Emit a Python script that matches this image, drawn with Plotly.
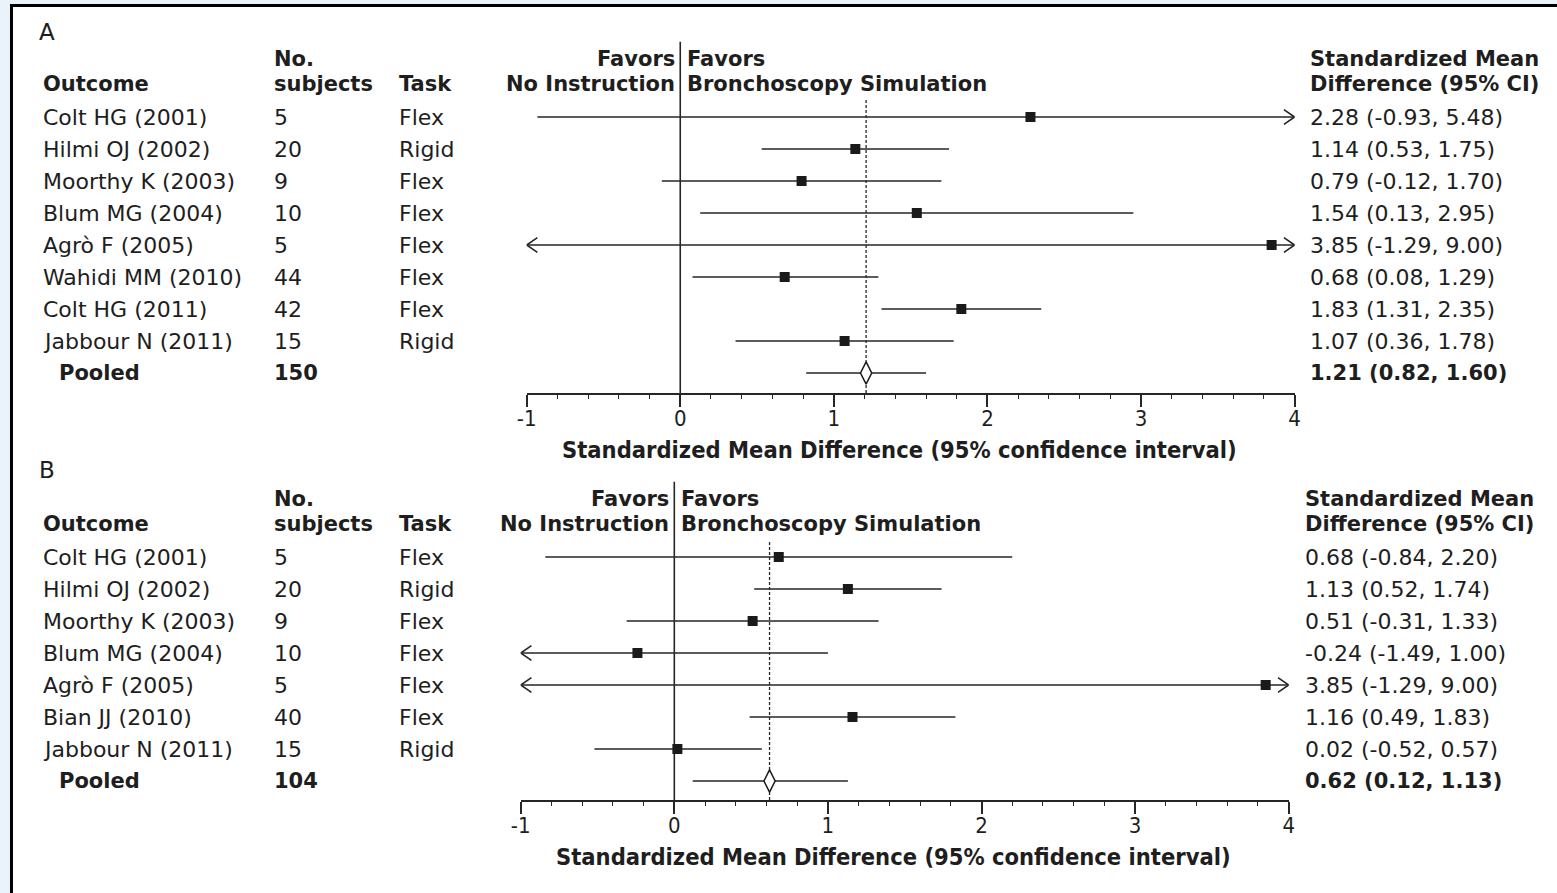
import plotly.graph_objects as go

# ---------------- data ----------------
A_studies = ["Colt HG (2001)", "Hilmi OJ (2002)", "Moorthy K (2003)", "Blum MG (2004)",
             "Agrò F (2005)", "Wahidi MM (2010)", "Colt HG (2011)", "Jabbour N (2011)"]
A_n = [5, 20, 9, 10, 5, 44, 42, 15]
A_task = ["Flex", "Rigid", "Flex", "Flex", "Flex", "Flex", "Flex", "Rigid"]
A_est = [2.28, 1.14, 0.79, 1.54, 3.85, 0.68, 1.83, 1.07]
A_lo = [-0.93, 0.53, -0.12, 0.13, -1.29, 0.08, 1.31, 0.36]
A_hi = [5.48, 1.75, 1.70, 2.95, 9.00, 1.29, 2.35, 1.78]
A_pooled = dict(n=150, est=1.21, lo=0.82, hi=1.60)

B_studies = ["Colt HG (2001)", "Hilmi OJ (2002)", "Moorthy K (2003)", "Blum MG (2004)",
             "Agrò F (2005)", "Bian JJ (2010)", "Jabbour N (2011)"]
B_n = [5, 20, 9, 10, 5, 40, 15]
B_task = ["Flex", "Rigid", "Flex", "Flex", "Flex", "Flex", "Rigid"]
B_est = [0.68, 1.13, 0.51, -0.24, 3.85, 1.16, 0.02]
B_lo = [-0.84, 0.52, -0.31, -1.49, -1.29, 0.49, -0.52]
B_hi = [2.20, 1.74, 1.33, 1.00, 9.00, 1.83, 0.57]
B_pooled = dict(n=104, est=0.62, lo=0.12, hi=1.13)

x_ticks = [-1, 0, 1, 2, 3, 4]
x_range = [-1, 4]
x_title = "Standardized Mean Difference (95% confidence interval)"

# ---------------- layout helpers ----------------
W, H = 1557, 893
FONT = "DejaVu Sans, Verdana, sans-serif"
CFONT = "DejaVu Sans Condensed, DejaVu Sans, sans-serif"
TXT = "#1e1e1e"
LINE = "#262626"
BG = "#eaf3fa"
FS = 22
FSB = 21

def px(x):
    return x / W

def py(y):
    return 1 - y / H

fig = go.Figure()
annotations = []
shapes = []

# background frame
shapes.append(dict(type="rect", xref="paper", yref="paper", x0=px(0), x1=1.01, y0=-0.01, y1=py(5),
                   fillcolor="white", line=dict(width=0), layer="below"))
shapes.append(dict(type="line", xref="paper", yref="paper", x0=px(1.5), x1=px(1.5), y0=-0.01, y1=py(4),
                   line=dict(color="black", width=3)))
shapes.append(dict(type="line", xref="paper", yref="paper", x0=0, x1=1.01, y0=py(5.5), y1=py(5.5),
                   line=dict(color="black", width=3)))


def panel(letter, studies, ns, tasks, est, lo, hi, pooled, xaxis, yaxis, cols, letter_y, title_y):
    xr = xaxis.replace("axis", "")
    yr = yaxis.replace("axis", "")
    nrow = len(studies)
    rows = [-i for i in range(nrow)]
    prow = -nrow
    # CI lines
    lx, ly = [], []
    for r, l, h in zip(rows, lo, hi):
        lx += [max(l, x_range[0]), min(h, x_range[1]), None]
        ly += [r, r, None]
    lx += [pooled["lo"], pooled["hi"], None]
    ly += [prow, prow, None]
    # arrow chevrons where CI extends beyond axis
    dx, dy = 0.07, 0.23
    for r, l, h in zip(rows, lo, hi):
        if h > x_range[1]:
            t = x_range[1]
            lx += [t - dx, t, t - dx, None]
            ly += [r + dy, r, r - dy, None]
        if l < x_range[0]:
            t = x_range[0]
            lx += [t + dx, t, t + dx, None]
            ly += [r + dy, r, r - dy, None]
    fig.add_trace(go.Scatter(x=lx, y=ly, mode="lines", line=dict(color=LINE, width=1.6),
                             xaxis=xr, yaxis=yr, hoverinfo="skip", showlegend=False))
    # point estimates
    fig.add_trace(go.Scatter(x=est, y=rows, mode="markers",
                             marker=dict(symbol="square", size=10, color="#1a1a1a"),
                             xaxis=xr, yaxis=yr, showlegend=False))
    # pooled diamond
    fig.add_trace(go.Scatter(x=[pooled["est"]], y=[prow], mode="markers",
                             marker=dict(symbol="diamond-tall", size=16, color="white",
                                         line=dict(color="#1a1a1a", width=1.5)),
                             xaxis=xr, yaxis=yr, showlegend=False))
    # zero line & pooled dashed line
    shapes.append(dict(type="line", xref=xr, yref=yr, x0=0, x1=0, y0=cols["ybot"], y1=2.35,
                       line=dict(color=LINE, width=1.6), layer="below"))
    shapes.append(dict(type="line", xref=xr, yref=yr, x0=pooled["est"], x1=pooled["est"],
                       y0=cols["ybot"], y1=0.53, line=dict(color=LINE, width=1.3, dash="3px,2px"),
                       layer="below"))

    def ann(text, x, y, xanchor="left", xref="paper", xshift=0, size=FS):
        annotations.append(dict(text=text, x=x, y=y, xref=xref, yref=yr, xanchor=xanchor,
                                yanchor="middle", showarrow=False, xshift=xshift,
                                font=dict(family=FONT, size=size, color=TXT)))

    h1, h2 = 1.81, 1.03
    ann("<b>Outcome</b>", px(cols["out"]), h2, size=FSB)
    ann("<b>No.</b>", px(cols["n"]), h1, size=FSB)
    ann("<b>subjects</b>", px(cols["n"]), h2, size=FSB)
    ann("<b>Task</b>", px(cols["task"]), h2, size=FSB)
    ann("<b>Favors</b>", 0, h1, xanchor="right", xref=xr, xshift=-3, size=FSB)
    ann("<b>No Instruction</b>", 0, h2, xanchor="right", xref=xr, xshift=-3, size=FSB)
    ann("<b>Favors</b>", 0, h1, xanchor="left", xref=xr, xshift=5, size=FSB)
    ann("<b>Bronchoscopy Simulation</b>", 0, h2, xanchor="left", xref=xr, xshift=5, size=FSB)
    ann("<b>Standardized Mean</b>", px(cols["ci"]), h1, size=FSB)
    ann("<b>Difference (95% CI)</b>", px(cols["ci"]), h2, size=FSB)
    for r, s, n, t, e, l, h in zip(rows, studies, ns, tasks, est, lo, hi):
        ann(s, px(cols["out"]), r)
        ann(str(n), px(cols["n"]), r)
        ann(t, px(cols["task"]), r)
        ann(f"{e:.2f} ({l:.2f}, {h:.2f})", px(cols["ci"]), r)
    ann("<b>Pooled</b>", px(cols["pool"]), prow, size=FSB)
    ann(f"<b>{pooled['n']}</b>", px(cols["n"]), prow, size=FSB)
    ann(f"<b>{pooled['est']:.2f} ({pooled['lo']:.2f}, {pooled['hi']:.2f})</b>", px(cols["ci"]), prow,
        size=FSB)
    annotations.append(dict(text=letter, x=px(cols["letter"]), y=py(letter_y), xref="paper", yref="paper",
                            xanchor="left", yanchor="middle", showarrow=False,
                            font=dict(family=FONT, size=23, color=TXT)))
    annotations.append(dict(text="<b>" + x_title + "</b>", x=px(cols["title"]), y=py(title_y),
                            xref="paper", yref="paper", xanchor="center", yanchor="middle",
                            showarrow=False, font=dict(family=CFONT, size=23.5, color=TXT)))


panel("A", A_studies, A_n, A_task, A_est, A_lo, A_hi, A_pooled, "xaxis", "yaxis",
      dict(out=31, pool=47, n=265, task=391, ci=1311, letter=27, title=899, ybot=-8.625), 32, 450)
panel("B", B_studies, B_n, B_task, B_est, B_lo, B_hi, B_pooled, "xaxis2", "yaxis2",
      dict(out=31, pool=47, n=265, task=391, ci=1306, letter=27, title=893, ybot=-7.59375), 470, 857)

xcommon = dict(range=x_range, tickvals=x_ticks, ticktext=[str(t) for t in x_ticks],
               showline=True, linecolor=LINE, linewidth=2, ticks="outside", ticklen=12,
               tickwidth=1.6, tickcolor=LINE, showgrid=False, zeroline=False,
               tickfont=dict(family=CFONT, size=22, color=TXT), ticklabelstandoff=-7,
               minor=dict(dtick=0.2, ticks="outside", ticklen=4, tickwidth=1.4, tickcolor=LINE,
                          showgrid=False),
               fixedrange=True)

fig.update_layout(
    width=W, height=H, autosize=False, margin=dict(l=0, r=0, t=0, b=0),
    paper_bgcolor=BG, plot_bgcolor="rgba(0,0,0,0)",
    xaxis=dict(domain=[px(522), px(1298)], anchor="y", **xcommon),
    yaxis=dict(domain=[py(393), py(30)], range=[-8.625, 2.71875], visible=False, fixedrange=True),
    xaxis2=dict(domain=[px(516), px(1292)], anchor="y2", **xcommon),
    yaxis2=dict(domain=[py(800), py(470)], range=[-7.59375, 2.71875], visible=False, fixedrange=True),
    annotations=annotations, shapes=shapes, showlegend=False,
)

fig.write_html("out.html",
               config={"displayModeBar": False, "responsive": False},
               post_script="document.body.style.margin='0px';document.body.style.overflow='hidden';"
                           "document.body.style.background='" + BG + "';")
